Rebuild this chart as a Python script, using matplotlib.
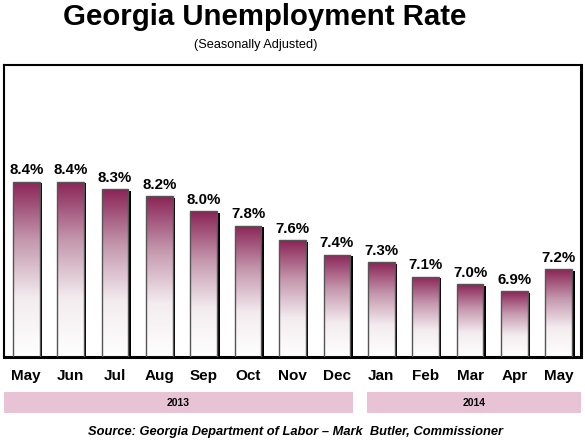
import numpy as np
import matplotlib.pyplot as plt
import matplotlib.transforms as mtransforms
from matplotlib.patches import Rectangle
from matplotlib.colors import LinearSegmentedColormap

plt.rcParams['font.family'] = ['Liberation Sans', 'DejaVu Sans']

# data
months = ['May', 'Jun', 'Jul', 'Aug', 'Sep', 'Oct', 'Nov', 'Dec',
          'Jan', 'Feb', 'Mar', 'Apr', 'May']
rates = [8.4, 8.4, 8.3, 8.2, 8.0, 7.8, 7.6, 7.4, 7.3, 7.1, 7.0, 6.9, 7.2]
years = ['2013', '2014']
year_spans = [(0, 7), (8, 12)]   # first and last month index of each year

fig = plt.figure(figsize=(5.85, 4.46), dpi=100)
ax = fig.add_axes([4 / 585, 1 - 357 / 446, 577 / 585, 292 / 446])
ax.set_xticks([])
ax.set_yticks([])
for sp in ax.spines.values():
    sp.set_linewidth(1.5)
ax.spines['right'].set_linewidth(2.2)
ax.spines['bottom'].set_linewidth(2.2)

cmap = LinearSegmentedColormap.from_list('gm', ['#ffffff', '#f3ecef', '#c497ad', '#8a2456'])
grad = np.linspace(0, 1, 256).reshape(-1, 1)
w = 0.6
shadow = mtransforms.offset_copy(ax.transData, fig=fig, x=2.5, y=-1.5, units='dots')

for i, r in enumerate(rates):
    x0 = i - w / 2
    ax.add_patch(Rectangle((x0, 6.0), w, r - 6.0, transform=shadow,
                           facecolor='black', edgecolor='none', zorder=1))
    im = ax.imshow(grad, cmap=cmap, aspect='auto', origin='lower',
                   extent=(x0, x0 + w, 6.0, r), zorder=2)
    rect = Rectangle((x0, 6.0), w, r - 6.0, facecolor='none',
                     edgecolor='#555555', linewidth=1.0, zorder=3)
    ax.add_patch(rect)
    im.set_clip_path(rect)
    ax.text(i, r + 0.06, f'{r:.1f}%', ha='center', va='bottom',
            fontsize=10.8, fontweight='bold', zorder=4)

ax.set_xlim(-0.5, len(months) - 0.5)
ax.set_ylim(6.0, 10.0)

# month labels and year bands
band = fig.add_axes([4 / 585, 0, 577 / 585, 1 - 357 / 446])
band.set_xlim(-0.5, len(months) - 0.5)
band.set_ylim(446 - 357, 0)
band.axis('off')
for i, m in enumerate(months):
    band.text(i, 376 - 357, m, ha='center', va='center', fontsize=11, fontweight='bold')
for yr, (a, b) in zip(years, year_spans):
    left = a - 0.5 if a == 0 else a - 0.32
    right = b + 0.5 if b == len(months) - 1 else b + 0.36
    band.add_patch(Rectangle((left, 392 - 357), right - left, 21,
                             facecolor='#e8c3d6', edgecolor='none'))
    band.text((left + right) / 2, 402.5 - 357, yr, ha='center', va='center',
              fontsize=7.5, fontweight='bold')

fig.text(265 / 585, 1 - 17 / 446, 'Georgia Unemployment Rate', ha='center', va='center',
         fontsize=21.2, fontweight='bold')
fig.text(256 / 585, 1 - 45 / 446, '(Seasonally Adjusted)', ha='center', va='center', fontsize=9.2)
fig.text(296 / 585, 1 - 432 / 446, 'Source: Georgia Department of Labor \u2013 Mark  Butler, Commissioner',
         ha='center', va='center', fontsize=9.3, fontweight='bold', style='italic')

fig.savefig('out.png', dpi=100)
